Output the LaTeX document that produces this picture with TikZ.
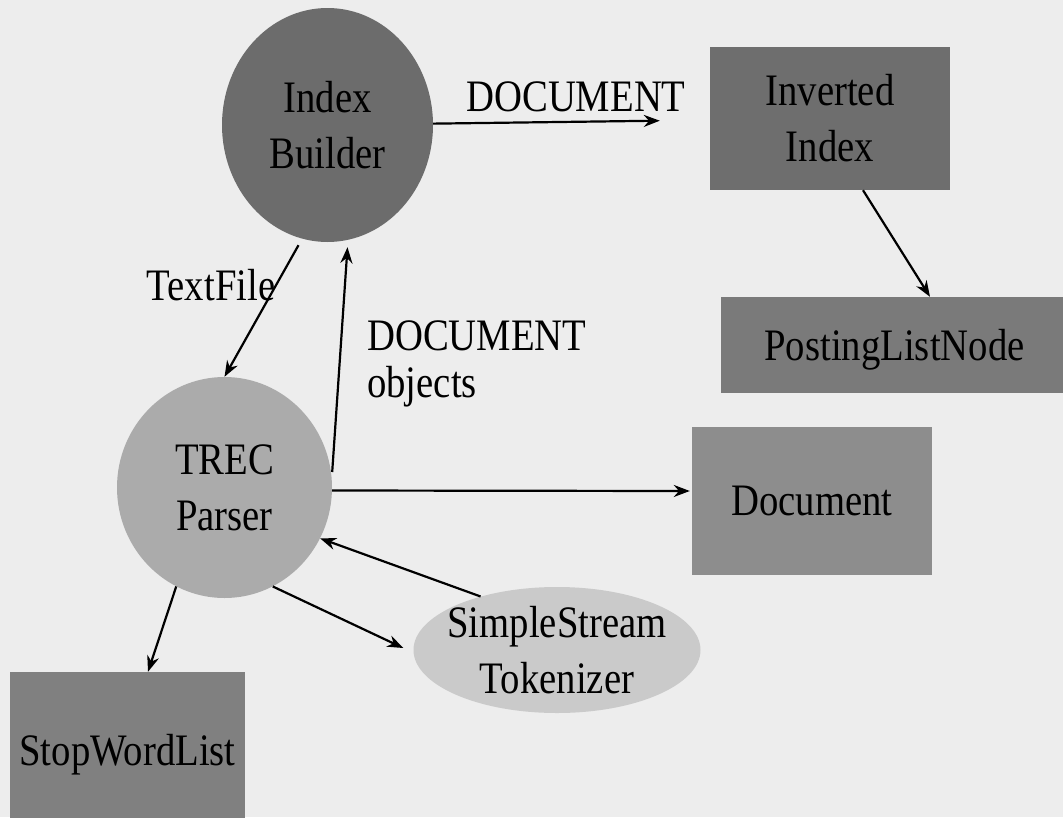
\documentclass[tikz,border=0pt]{standalone}
\usepackage{fontspec}
\newfontfamily\diagfont[FakeStretch=0.86]{Liberation Serif}
\usetikzlibrary{shapes.geometric,arrows.meta}
\definecolor{bgc}{HTML}{EDEDED}
\definecolor{ibc}{HTML}{6C6C6C}
\definecolor{invc}{HTML}{6E6E6E}
\definecolor{plnc}{HTML}{7A7A7A}
\definecolor{docc}{HTML}{8D8D8D}
\definecolor{swlc}{HTML}{808080}
\definecolor{trecc}{HTML}{ABABAB}
\definecolor{sstc}{HTML}{CACACA}
\tikzset{
  txt/.style={font=\diagfont\fontsize{45}{56}\selectfont, text=black, align=center, inner sep=0pt},
  ellnode/.style={txt, ellipse, draw=none},
  boxnode/.style={txt, rectangle, draw=none},
  lbl/.style={font=\diagfont\fontsize{45}{47}\selectfont, text=black, inner sep=0pt},
  arr/.style={-{Stealth[length=16pt,width=12pt]}, line width=2.2pt, black},
}
\begin{document}
\begin{tikzpicture}[x=1pt,y=-1pt]
\useasboundingbox (0,0) rectangle (1063,817);
\clip (0,0) rectangle (1063,817);
\fill[bgc] (0,0) rectangle (1063,817);

\node[ellnode, fill=ibc, minimum width=211pt, minimum height=234pt] (ib) at (327.5,125) {\makebox[0pt]{Index}\\\makebox[0pt]{Builder}};
\node[boxnode, fill=invc, minimum width=240pt, minimum height=143pt] (inv) at (830,118.5) {Inverted\\Index};
\node[boxnode, fill=plnc, minimum width=347pt, minimum height=96pt, text depth=0pt] (pln) at (894.5,345) {PostingListNode};
\node[boxnode, fill=docc, minimum width=240pt, minimum height=148pt] (doc) at (812,501) {Document};
\node[ellnode, fill=trecc, minimum width=215pt, minimum height=221pt] (trec) at (224.5,487.5) {\makebox[0pt]{TREC}\\\smash{\makebox[0pt]{Parser}}};
\node[ellnode, fill=sstc, minimum width=287pt, minimum height=126pt] (sst) at (557,650) {\makebox[0pt]{SimpleStream}\\\makebox[0pt]{Tokenizer}};
\node[boxnode, fill=swlc, minimum width=235pt, minimum height=156pt, text depth=0pt] (swl) at (127.5,750) {StopWordList};

% connectors
\draw[arr, shorten >=50pt] (ib) -- (inv);
\draw[arr] ([xshift=33pt]inv.south) -- ([xshift=35.5pt]pln.north);
\draw[arr] ([xshift=-29pt,yshift=-3pt]ib.south) -- (trec.north);
\draw[arr] ([yshift=15.5pt]trec.east) -- ([xshift=20pt,yshift=-5pt]ib.south);
\draw[arr] ([yshift=-3pt]trec.east) -- ([xshift=-2pt,yshift=10pt]doc.west);
\draw[arr] (trec.244) -- ([xshift=20.5pt]swl.north);
\draw[arr] (sst.145) -- (trec.332);
\draw[arr] (trec.296) -- ([xshift=-10pt,yshift=2pt]sst.west);

% labels
\node[lbl] (l1) at (576,97) {DOCUMENT};
\node[lbl] (l2) at (211,285) {TextFile};
\node[lbl, align=left, anchor=north west] (l3) at (367,320) {DOCUMENT\\objects};
\end{tikzpicture}
\end{document}
